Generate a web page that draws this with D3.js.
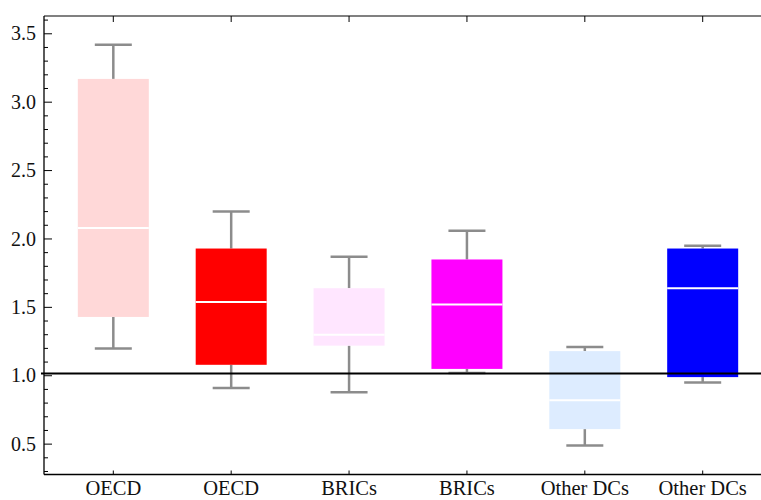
<!DOCTYPE html>
<html>
<head>
<meta charset="utf-8">
<script src="https://cdn.jsdelivr.net/npm/d3@7"></script>
<style>
  html, body { margin: 0; padding: 0; background: #fff; }
  svg { display: block; }
  text { font-family: "Liberation Serif", "Times New Roman", serif; }
</style>
</head>
<body>
<svg id="chart" width="761" height="500"></svg>
<script>
// Group labels (each region appears twice: two scenarios side by side)
const labels = ["OECD", "OECD", "BRICs", "BRICs", "Other DCs", "Other DCs"];
// Box-plot statistics per group
const whiskerLow  = [1.20, 0.91, 0.88, 1.02, 0.49, 0.95];
const q1          = [1.43, 1.08, 1.22, 1.05, 0.61, 0.99];
const median      = [2.08, 1.54, 1.30, 1.52, 0.82, 1.64];
const q3          = [3.17, 1.93, 1.64, 1.85, 1.18, 1.93];
const whiskerHigh = [3.42, 2.20, 1.87, 2.06, 1.21, 1.95];
const fills = ["#ffd8d8", "#ff0000", "#ffe6ff", "#ff00ff", "#ddecff", "#0000ff"];
// Y ticks
const majorTicks = [0.5, 1.0, 1.5, 2.0, 2.5, 3.0, 3.5];
const minorTicks = [0.3, 0.4, 0.6, 0.7, 0.8, 0.9, 1.1, 1.2, 1.3, 1.4, 1.6, 1.7, 1.8, 1.9,
                    2.1, 2.2, 2.3, 2.4, 2.6, 2.7, 2.8, 2.9, 3.1, 3.2, 3.3, 3.4, 3.6];
const referenceValue = 1.017;

const svg = d3.select("#chart");
const plotLeft = 44, plotTop = 16, plotBottom = 474.5, plotRight = 772;

const idx = labels.map((d, i) => i);
const x = d3.scalePoint().domain(idx).range([plotLeft, plotRight]).padding(0.588);
const y = d3.scaleLinear().domain([0.278, 3.63]).range([plotBottom, plotTop]);

const boxW = 71, capW = 37;

// Frame: gray top edge
svg.append("line")
  .attr("x1", plotLeft).attr("x2", 761).attr("y1", plotTop).attr("y2", plotTop)
  .attr("stroke", "#808080").attr("stroke-width", 2);

// Boxes
const g = svg.append("g");
idx.forEach(i => {
  const cx = x(i);
  // whiskers
  const wl = g.append("g").attr("stroke", "#8c8c8c").attr("stroke-width", 2.5);
  wl.append("line").attr("x1", cx).attr("x2", cx).attr("y1", y(whiskerHigh[i])).attr("y2", y(q3[i]));
  wl.append("line").attr("x1", cx).attr("x2", cx).attr("y1", y(q1[i])).attr("y2", y(whiskerLow[i]));
  wl.append("line").attr("x1", cx - capW / 2).attr("x2", cx + capW / 2)
    .attr("y1", y(whiskerHigh[i])).attr("y2", y(whiskerHigh[i]));
  wl.append("line").attr("x1", cx - capW / 2).attr("x2", cx + capW / 2)
    .attr("y1", y(whiskerLow[i])).attr("y2", y(whiskerLow[i]));
  // box
  g.append("rect")
    .attr("x", cx - boxW / 2).attr("width", boxW)
    .attr("y", y(q3[i])).attr("height", y(q1[i]) - y(q3[i]))
    .attr("fill", fills[i]);
  // median
  g.append("line")
    .attr("x1", cx - boxW / 2).attr("x2", cx + boxW / 2)
    .attr("y1", y(median[i])).attr("y2", y(median[i]))
    .attr("stroke", "#ffffff").attr("stroke-width", 2);
});

// Left axis with inward ticks
const yAxis = svg.append("g").attr("transform", `translate(${plotLeft},0)`);
yAxis.append("line").attr("x1", 0).attr("x2", 0).attr("y1", plotTop).attr("y2", plotBottom)
  .attr("stroke", "#000").attr("stroke-width", 1.3);
yAxis.selectAll("line.minor").data(minorTicks).join("line").attr("class", "minor")
  .attr("x1", 0).attr("x2", 4).attr("y1", d => y(d)).attr("y2", d => y(d))
  .attr("stroke", "#000").attr("stroke-width", 1);
yAxis.selectAll("line.major").data(majorTicks).join("line").attr("class", "major")
  .attr("x1", 0).attr("x2", 8).attr("y1", d => y(d)).attr("y2", d => y(d))
  .attr("stroke", "#000").attr("stroke-width", 1);
yAxis.selectAll("text").data(majorTicks).join("text")
  .attr("x", -8).attr("y", d => y(d)).attr("dy", "0.33em")
  .attr("text-anchor", "end").attr("font-size", 20).attr("fill", "#111")
  .text(d => d3.format(".1f")(d));

// Bottom axis
const xAxis = svg.append("g");
xAxis.append("line").attr("x1", plotLeft).attr("x2", 761).attr("y1", plotBottom).attr("y2", plotBottom)
  .attr("stroke", "#000").attr("stroke-width", 1.3);
xAxis.selectAll("line.tick").data(idx).join("line").attr("class", "tick")
  .attr("x1", d => x(d)).attr("x2", d => x(d)).attr("y1", plotBottom).attr("y2", plotBottom - 4)
  .attr("stroke", "#000").attr("stroke-width", 1);
xAxis.selectAll("text").data(idx).join("text")
  .attr("x", d => x(d)).attr("y", 495)
  .attr("text-anchor", "middle").attr("font-size", 20.5).attr("fill", "#111")
  .text(d => labels[d]);

// Top ticks
svg.selectAll("line.toptick").data(idx).join("line").attr("class", "toptick")
  .attr("x1", d => x(d)).attr("x2", d => x(d)).attr("y1", plotTop).attr("y2", plotTop + 6)
  .attr("stroke", "#000").attr("stroke-width", 1);

// Reference line
svg.append("line")
  .attr("x1", plotLeft - 3).attr("x2", 761)
  .attr("y1", y(referenceValue)).attr("y2", y(referenceValue))
  .attr("stroke", "#000").attr("stroke-width", 2);
</script>
</body>
</html>
